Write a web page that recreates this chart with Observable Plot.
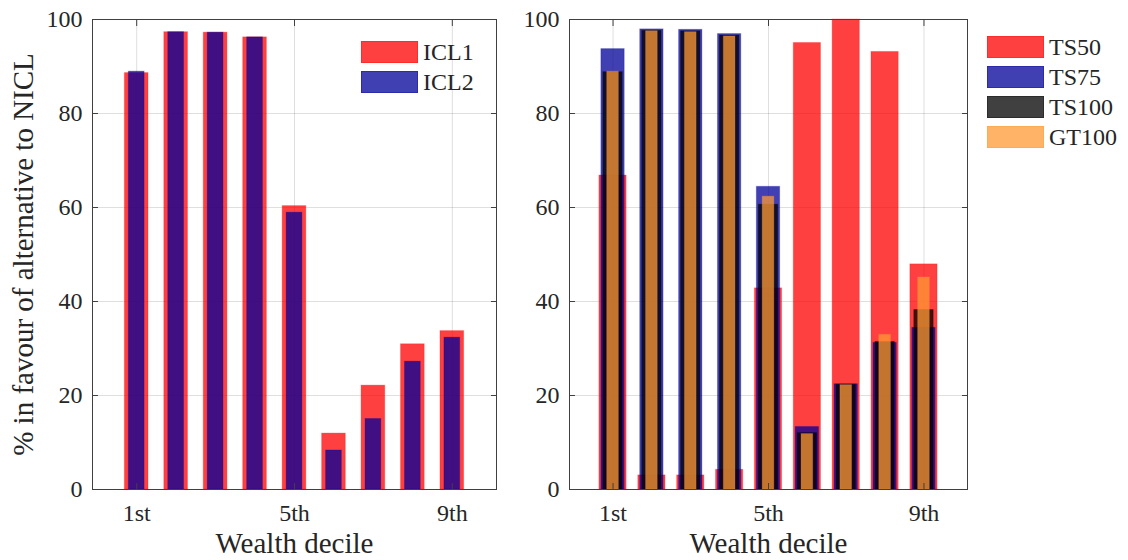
<!DOCTYPE html>
<html><head><meta charset="utf-8">
<script src="https://cdn.jsdelivr.net/npm/d3@7"></script>
<script src="https://cdn.jsdelivr.net/npm/@observablehq/plot@0.6"></script>
<style>
body{margin:0;background:#fff;}
#wrap{position:relative;width:1128px;height:560px;overflow:hidden;font-family:"Liberation Serif",serif;color:#262626;}
#wrap svg{position:absolute;top:0;max-width:none;background:transparent;}
g[aria-label="x-axis label"] text, g[aria-label="y-axis label"] text, g[aria-label="x-axis label"], g[aria-label="y-axis label"]{font-size:29px;}
.item{position:absolute;height:22px;display:flex;align-items:center;white-space:nowrap;}
.sw{width:57px;height:22px;box-sizing:border-box;}
.lab{font-size:24px;margin-left:5px;color:#262626;}
</style></head><body><div id="wrap"></div>
<script>
// ---- data ----
const deciles = [1, 2, 3, 4, 5, 6, 7, 8, 9];
const tickValues = [1, 5, 9];
const tickLabels = ["1st", "5th", "9th"];
const yTicks = [0, 20, 40, 60, 80, 100];

const icl1 = [88.6, 97.3, 97.2, 96.2, 60.3, 11.9, 22.1, 30.9, 33.7];
const icl2 = [88.9, 97.3, 97.2, 96.2, 58.9, 8.3, 15.0, 27.2, 32.3];

const ts50  = [66.8, 3.0, 3.0, 4.2, 42.8, 95.0, 100, 93.1, 47.9];
const ts75  = [93.7, 97.9, 97.8, 96.9, 64.4, 13.3, 22.4, 31.2, 34.4];
const ts100 = [88.8, 97.6, 97.5, 96.6, 60.6, 12.0, 22.3, 31.4, 38.2];
const gt100 = [88.9, 97.5, 97.3, 96.4, 62.3, 11.8, 22.2, 32.9, 45.1];

const leftSeries = [
  {name: "ICL1", values: icl1, color: "rgb(255,0,0)", width: 0.6},
  {name: "ICL2", values: icl2, color: "rgb(0,0,153)", width: 0.4}
];
const rightSeries = [
  {name: "TS50", values: ts50, color: "rgb(255,0,0)", width: 0.7},
  {name: "TS75", values: ts75, color: "rgb(0,0,153)", width: 0.6},
  {name: "TS100", values: ts100, color: "rgb(0,0,0)", width: 0.5},
  {name: "GT100", values: gt100, color: "rgb(255,153,51)", width: 0.3}
];
const yLabel = "% in favour of alternative to NICL";
const xLabel = "Wealth decile";
const ALPHA = 0.75;

function panel(series, {width, marginLeft, marginRight, showYLabel}) {
  const marks = [
    Plot.gridX(tickValues, {stroke: "#262626", strokeOpacity: 0.15}),
    Plot.gridY(yTicks, {stroke: "#262626", strokeOpacity: 0.15})
  ];
  for (const s of series) {
    const rows = deciles.map((d, i) => ({decile: d, value: s.values[i]}));
    marks.push(Plot.rect(rows, {
      x1: r => r.decile - s.width / 2,
      x2: r => r.decile + s.width / 2,
      y1: 0,
      y2: "value",
      fill: s.color, fillOpacity: ALPHA,
      stroke: s.color, strokeOpacity: 0.25, strokeWidth: 1
    }));
  }
  marks.push(
    Plot.frame({stroke: "#404040", strokeWidth: 1}),
    Plot.axisX(tickValues, {anchor: "bottom", tickSize: -6, tickPadding: 20,
      tickFormat: d => tickLabels[tickValues.indexOf(d)],
      label: xLabel, labelAnchor: "center", labelArrow: "none", labelOffset: 63, stroke: "#404040"}),
    Plot.axisX(tickValues, {anchor: "top", tickSize: -6, tickFormat: () => "", label: null, stroke: "#404040"}),
    Plot.axisY(yTicks, {anchor: "left", tickSize: -6, tickPadding: 16,
      label: showYLabel ? yLabel : null, labelAnchor: "center", labelArrow: "none", labelOffset: 80, stroke: "#404040"}),
    Plot.axisY(yTicks, {anchor: "right", tickSize: -6, tickFormat: () => "", label: null, stroke: "#404040"})
  );
  return Plot.plot({
    width, height: 560,
    marginLeft, marginRight, marginTop: 19, marginBottom: 71,
    style: {fontFamily: "'Liberation Serif', serif", fontSize: "24px", color: "#262626", background: "transparent", overflow: "visible"},
    x: {type: "linear", domain: [-0.12, 10.12]},
    y: {domain: [0, 100]},
    marks
  });
}

const wrap = document.getElementById("wrap");
const left = panel(leftSeries, {width: 530, marginLeft: 92, marginRight: 34, showYLabel: true});
left.style.left = "0px";
wrap.appendChild(left);
const right = panel(rightSeries, {width: 628, marginLeft: 69, marginRight: 161, showYLabel: false});
right.style.left = "500px";
wrap.appendChild(right);

function legend(series, x, y0, step) {
  series.forEach((s, i) => {
    const it = document.createElement("div");
    it.className = "item";
    it.style.left = x + "px";
    it.style.top = (y0 + i * step) + "px";
    const sw = document.createElement("div");
    sw.className = "sw";
    const c = d3.color(s.color);
    c.opacity = ALPHA;
    sw.style.background = c.formatRgb();
    const e = d3.color(s.color); e.opacity = 0.3;
    sw.style.border = "1px solid " + e.formatRgb();
    const lb = document.createElement("span");
    lb.className = "lab";
    lb.textContent = s.name;
    it.appendChild(sw); it.appendChild(lb);
    wrap.appendChild(it);
  });
}
legend(leftSeries, 361, 41, 30);
legend(rightSeries, 987, 36, 30);
</script></body></html>
